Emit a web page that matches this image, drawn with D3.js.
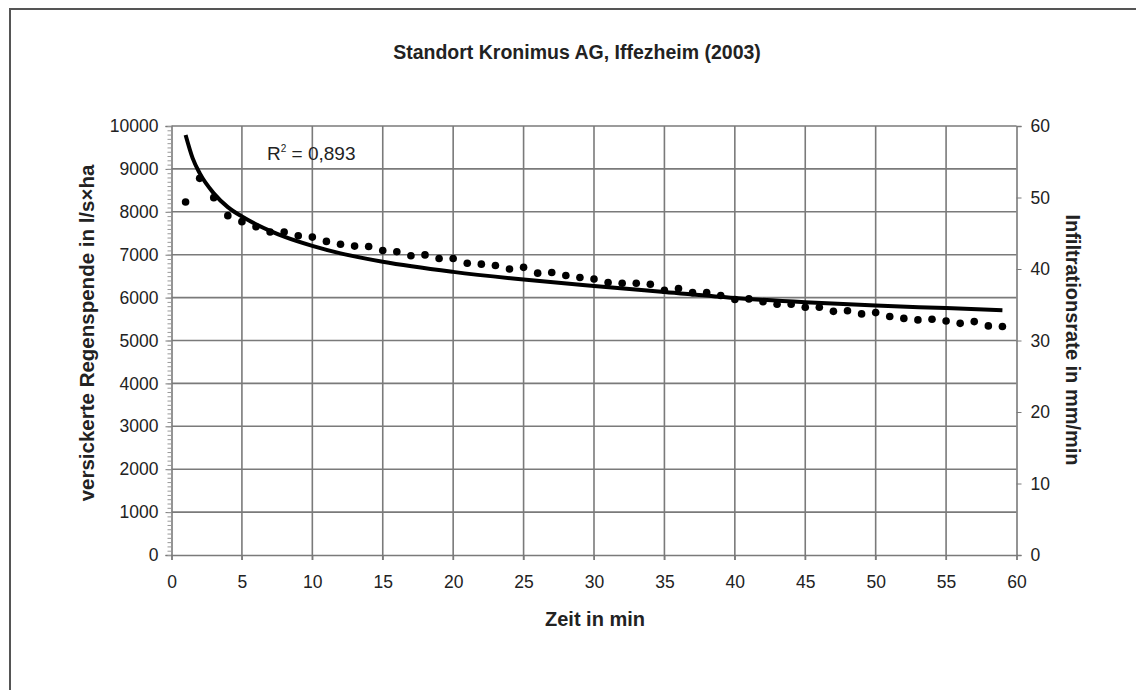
<!DOCTYPE html>
<html>
<head>
<meta charset="utf-8">
<script src="https://cdn.jsdelivr.net/npm/d3@7"></script>
<style>
  body { margin: 0; background: #fff; }
  svg { display: block; font-family: "Liberation Sans", Arial, sans-serif; }
</style>
</head>
<body>
<svg id="chart" width="1136" height="690"></svg>
<script>
// ---- data ----
const minutes = d3.range(1, 60);
const regenspende = [
  8230, 8780, 8330, 7910, 7770, 7650, 7530, 7530, 7440, 7410,
  7310, 7245, 7200, 7190, 7095, 7070, 6975, 6995, 6910, 6910,
  6800, 6780, 6750, 6665, 6705, 6570, 6585, 6515, 6470, 6435,
  6350, 6335, 6335, 6310, 6170, 6210, 6115, 6115, 6050, 5955,
  5970, 5905, 5845, 5845, 5775, 5775, 5680, 5695, 5620, 5650,
  5560, 5515, 5480, 5495, 5455, 5400, 5440, 5340, 5325
];
// power trendline
const trendX = [1, 1.5, 2, 3, 4, 5, 6, 7, 8, 10, 12, 15, 20, 25, 30, 35, 40, 45, 50, 55, 59];
const trendY = [9790, 9250, 8900, 8430, 8110, 7890, 7710, 7555, 7420, 7205, 7030, 6835, 6600, 6420, 6270, 6130, 5990, 5890, 5815, 5755, 5705];
const xTicks = d3.range(0, 61, 5);
const yLeftTicks = d3.range(0, 10001, 1000);
const yRightTicks = d3.range(0, 61, 10);
const title = "Standort Kronimus AG, Iffezheim (2003)";
const xTitle = "Zeit in min";
const yLeftTitle = "versickerte Regenspende in l/s\u00d7ha";
const yRightTitle = "Infiltrationsrate in mm/min";
const r2Text = "0,893";

// ---- layout ----
const svg = d3.select("#chart");
const L = 171.5, R = 1016.5, T = 126, B = 555;
const x = d3.scaleLinear().domain([0, 60]).range([L, R]);
const yL = d3.scaleLinear().domain([0, 10000]).range([B, T]);
const yR = d3.scaleLinear().domain([0, 60]).range([B, T]);
const gridCol = "#7a7a7a";
const textCol = "#222";
const tickFont = "17.5px";
const titleFont = "19.5px";

// outer frame
svg.append("rect").attr("x", 10).attr("y", 9).attr("width", 1140).attr("height", 700)
  .attr("fill", "none").attr("stroke", "#555").attr("stroke-width", 2);

// grid
const g = svg.append("g");
g.selectAll("line.v").data(xTicks.filter(d => d > 0 && d < 60)).enter().append("line")
  .attr("x1", d => x(d)).attr("x2", d => x(d)).attr("y1", T).attr("y2", B + 5)
  .attr("stroke", gridCol).attr("stroke-width", 1.6);
g.selectAll("line.h").data(yLeftTicks.filter(d => d > 0)).enter().append("line")
  .attr("x1", L).attr("x2", R).attr("y1", d => yL(d)).attr("y2", d => yL(d))
  .attr("stroke", gridCol).attr("stroke-width", 1.6);

// left axis
const leftAxis = d3.axisLeft(yL).tickValues(yLeftTicks).tickSize(6).tickPadding(7).tickFormat(d3.format("d"));
const la = svg.append("g").attr("transform", `translate(${L},0)`).call(leftAxis);
la.select(".domain").attr("stroke", gridCol).attr("stroke-width", 1.6);
la.selectAll(".tick line").attr("stroke", gridCol);
la.selectAll("text").attr("fill", textCol).style("font-size", tickFont);
const minorLeft = d3.axisLeft(yL).tickValues(d3.range(0, 10001, 100)).tickSize(4).tickFormat("");
const lm = svg.append("g").attr("transform", `translate(${L},0)`).call(minorLeft);
lm.select(".domain").remove();
lm.selectAll(".tick line").attr("stroke", "#999").attr("stroke-width", 1);

// right axis
const rightAxis = d3.axisRight(yR).tickValues(yRightTicks).tickSize(5).tickPadding(9);
const ra = svg.append("g").attr("transform", `translate(${R},0)`).call(rightAxis);
ra.select(".domain").attr("stroke", gridCol).attr("stroke-width", 1.6);
ra.selectAll(".tick line").attr("stroke", gridCol);
ra.selectAll("text").attr("fill", textCol).style("font-size", tickFont);

// bottom axis
const bottomAxis = d3.axisBottom(x).tickValues(xTicks).tickSize(5).tickPadding(16);
const ba = svg.append("g").attr("transform", `translate(0,${B})`).call(bottomAxis);
ba.select(".domain").attr("stroke", gridCol).attr("stroke-width", 1.6);
ba.selectAll(".tick line").attr("stroke", gridCol);
ba.selectAll("text").attr("fill", textCol).style("font-size", tickFont);

// dots
const pts = minutes.map((m, i) => [m, regenspende[i]]);
svg.append("g").selectAll("circle").data(pts).enter().append("circle")
  .attr("cx", d => x(d[0])).attr("cy", d => yL(d[1])).attr("r", 3.8).attr("fill", "#000");

// trendline
const trend = trendX.map((t, i) => [t, trendY[i]]);
svg.append("path").datum(trend)
  .attr("d", d3.line().x(d => x(d[0])).y(d => yL(d[1])).curve(d3.curveMonotoneX))
  .attr("fill", "none").attr("stroke", "#000").attr("stroke-width", 4);

// texts
svg.append("text").attr("x", 577).attr("y", 59).attr("text-anchor", "middle")
  .attr("font-weight", "bold").style("font-size", titleFont).attr("fill", textCol).text(title);
svg.append("text").attr("x", 595).attr("y", 626).attr("text-anchor", "middle")
  .attr("font-weight", "bold").style("font-size", "20px").attr("fill", textCol).text(xTitle);
svg.append("text").attr("transform", `translate(94,333) rotate(-90)`)
  .attr("text-anchor", "middle").attr("font-weight", "bold").style("font-size", "20.5px")
  .attr("fill", textCol).text(yLeftTitle);
svg.append("text").attr("transform", `translate(1066,340) rotate(90)`)
  .attr("text-anchor", "middle").attr("font-weight", "bold").style("font-size", "20px")
  .attr("fill", textCol).text(yRightTitle);

const r2 = svg.append("text").attr("x", 267).attr("y", 160).style("font-size", "19px").attr("fill", textCol);
r2.append("tspan").text("R");
r2.append("tspan").attr("dy", -8).style("font-size", "10px").text("2");
r2.append("tspan").attr("dy", 8).text(" = " + r2Text);
</script>
</body>
</html>
